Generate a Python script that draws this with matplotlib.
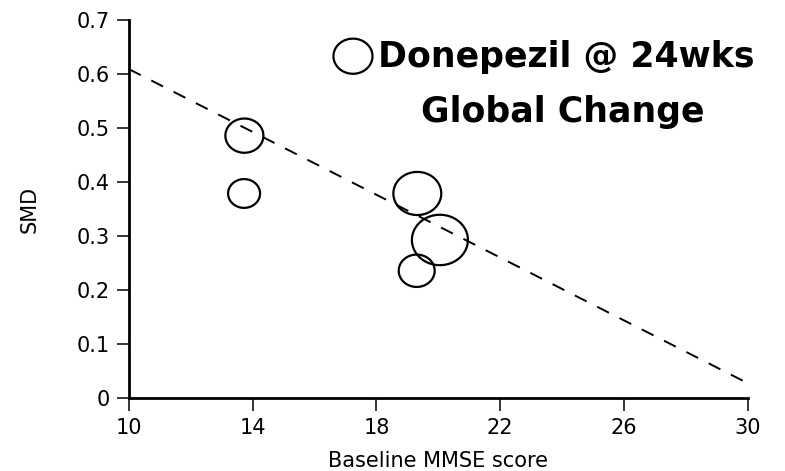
import numpy as np
import matplotlib
matplotlib.use("Agg")
import matplotlib.pyplot as plt
from matplotlib.path import Path

# ---- data ----
baseline_mmse = [17.24, 13.73, 13.72, 19.32, 20.05, 19.30]
smd = [0.633, 0.486, 0.379, 0.379, 0.293, 0.236]
bubble_area = [790, 750, 530, 1190, 1625, 670]   # relative study weight (marker area, pt^2)
fit_intercept = 0.8995
fit_slope = -0.02905
x_ticks = [10, 14, 18, 22, 26, 30]
y_ticks = [0, 0.1, 0.2, 0.3, 0.4, 0.5, 0.6, 0.7]
y_tick_labels = ["0", "0.1", "0.2", "0.3", "0.4", "0.5", "0.6", "0.7"]
title_lines = ["Donepezil @ 24wks", "Global Change"]
x_label = "Baseline MMSE score"
y_label = "SMD"

plt.rcParams['lines.scale_dashes'] = False
W, H = 785, 471
fig = plt.figure(figsize=(W / 100, H / 100), dpi=100)
ax = fig.add_axes([129 / W, 1 - 398.3 / H, (747.7 - 129) / W, (398.3 - 20) / H])

# regression line
fx = np.array([x_ticks[0], x_ticks[-1]], dtype=float)
fy = fit_intercept + fit_slope * fx
ax.plot(fx, fy, color='black', lw=1.4, dashes=(9.5, 8.5), dash_capstyle='butt',
        clip_on=False, zorder=2)

# slightly wide ellipse marker
t = np.linspace(0, 2 * np.pi, 100)
verts = np.column_stack([np.cos(t), 0.9 * np.sin(t)])
ell = Path(verts, closed=True)
ax.scatter(baseline_mmse, smd, s=bubble_area, marker=ell, facecolors='none',
           edgecolors='black', linewidths=1.6, zorder=3, clip_on=False)

ax.set_xlim(x_ticks[0], x_ticks[-1])
ax.set_ylim(y_ticks[0], y_ticks[-1])
ax.set_xticks(x_ticks)
ax.set_xticklabels([str(v) for v in x_ticks])
ax.set_yticks(y_ticks)
ax.set_yticklabels(y_tick_labels)
for s in ['top', 'right']:
    ax.spines[s].set_visible(False)
for s in ['left', 'bottom']:
    ax.spines[s].set_linewidth(2.0)
ax.tick_params(axis='both', direction='out', length=9, width=1.1,
               labelsize=15, colors='black')
ax.tick_params(axis='y', pad=5)
ax.tick_params(axis='x', pad=5.5)

fig.text(30 / W, 1 - 209 / H, y_label, rotation=90, ha='center', va='center', fontsize=15)
fig.text(438 / W, 1 - 466.7 / H, x_label, ha='center', va='baseline', fontsize=15)

fig.text(566 / W, 1 - 66.7 / H, title_lines[0], ha='center', va='baseline',
         fontsize=25, fontweight='bold')
fig.text(563 / W, 1 - 121.7 / H, title_lines[1], ha='center', va='baseline',
         fontsize=25, fontweight='bold')

fig.savefig("out.png", dpi=100)
